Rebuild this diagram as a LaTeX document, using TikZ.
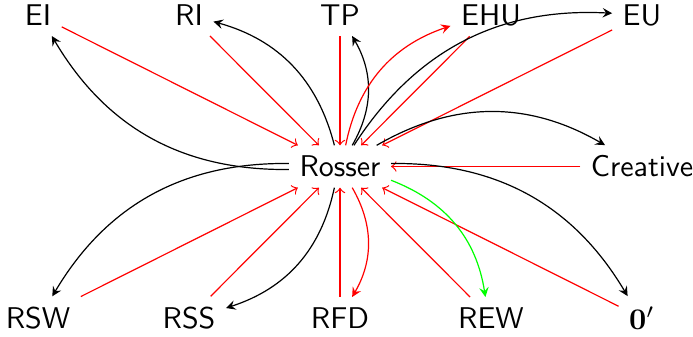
\documentclass[tikz,border=0pt]{standalone}
\usetikzlibrary{arrows}
\begin{document}
\begin{tikzpicture}[x=0.33333pt,y=0.33333pt,
  lbl/.style={font=\sffamily},
  inarrow/.style={red,->},
  outarrow/.style={-stealth}]
\useasboundingbox (0,0) rectangle (693,336);
\node[lbl] (EI) at (38,321) {EI};
\node[lbl] (RI) at (189,321) {RI};
\node[lbl] (TP) at (340,321) {TP};
\node[lbl] (EHU) at (491,321) {EHU};
\node[lbl] (EU) at (642,321) {EU};
\node[lbl] (R) at (340,169.5) {Rosser};
\node[lbl] (Cr) at (642,169.5) {Creative};
\node[lbl] (RSW) at (38,18) {RSW};
\node[lbl] (RSS) at (189,18) {RSS};
\node[lbl] (RFD) at (340,18) {RFD};
\node[lbl] (REW) at (491,18) {REW};
\node (Z) at (642,18) {$\mathbf{0}'$};
% red incoming
\foreach \n in {EI,RI,TP,EHU,EU,Cr,RSW,RSS,RFD,REW,Z}
  \draw[inarrow] (\n) -- (R);
% black outgoing
\draw[outarrow] (R) to[bend left] (EI);
\draw[outarrow] (R) to[bend right] (RI);
\draw[outarrow] (R) to[bend right] (TP);
\draw[outarrow] (R) to[bend left] (EU);
\draw[outarrow] (R) to[bend left] (Cr);
\draw[outarrow] (R) to[bend left] (Z);
\draw[outarrow] (R) to[bend left] (RSS);
\draw[outarrow] (R) to[bend right] (RSW);
% coloured outgoing
\draw[outarrow,red] (R) to[bend left] (EHU);
\draw[outarrow,red] (R) to[bend left] (RFD);
\draw[outarrow,green] (R) to[bend left] (REW);
\end{tikzpicture}
\end{document}
